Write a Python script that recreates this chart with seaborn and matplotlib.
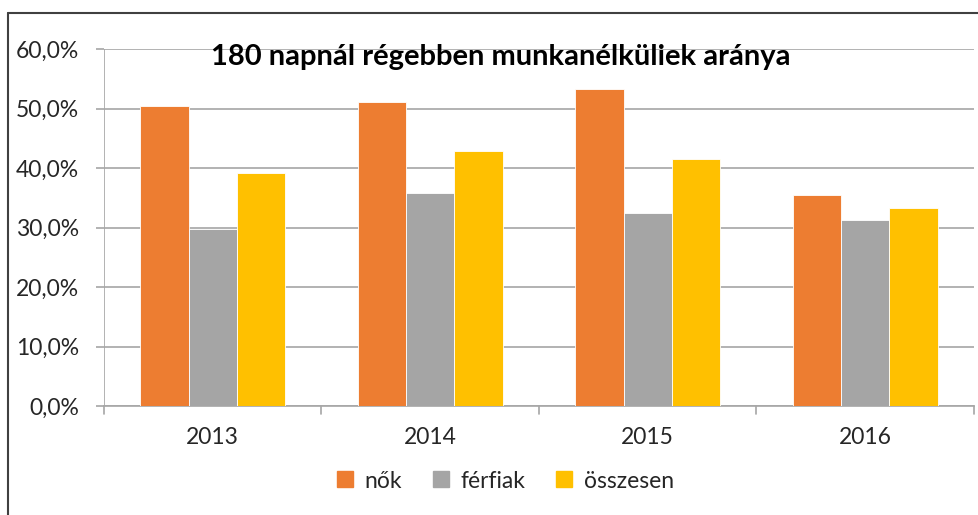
import numpy as np
import pandas as pd
import seaborn as sns
import matplotlib.pyplot as plt
from matplotlib.lines import Line2D
from matplotlib.ticker import FuncFormatter

years = ['2013', '2014', '2015', '2016']
series = ['nők', 'férfiak', 'összesen']
nok = [50.4, 51.1, 53.3, 35.5]
ferfiak = [29.7, 35.8, 32.4, 31.3]
osszesen = [39.2, 42.9, 41.5, 33.2]
colors = ['#ED7D31', '#A5A5A5', '#FFC000']

df = pd.DataFrame({
    'ev': years * 3,
    'csoport': [s for s in series for _ in years],
    'arany': nok + ferfiak + osszesen,
})

sns.set_style('white')
plt.rcParams['font.family'] = ['Lato', 'DejaVu Sans']

fig = plt.figure(figsize=(9.79, 5.15), dpi=100)
ax = fig.add_axes([104 / 979, 1 - 406 / 515, 870 / 979, 357 / 515])

sns.barplot(data=df, x='ev', y='arany', hue='csoport', hue_order=series,
            palette=colors, width=0.667, gap=0, saturation=1, ax=ax,
            edgecolor='white', linewidth=0.6, zorder=3)

ax.set_ylim(0, 60)
ax.set_xlim(-0.5, 3.5)
ax.set_yticks(np.arange(0, 61, 10))
ax.yaxis.set_major_formatter(FuncFormatter(lambda v, p: f'{v:.1f}%'.replace('.', ',')))
ax.grid(axis='y', color='#A6A6A6', linewidth=1.2, zorder=0)
ax.set_axisbelow(True)
for s in ['top', 'right', 'left']:
    ax.spines[s].set_visible(False)
ax.spines['bottom'].set_color('#A6A6A6')
ax.spines['bottom'].set_linewidth(1.2)

# y tick marks on left, vertical ticks between categories
ax.tick_params(axis='y', length=6, color='#A6A6A6', width=1.2, labelsize=16.5,
               labelcolor='#262626', pad=12, left=True)
ax.tick_params(axis='x', length=0, labelsize=16.5, labelcolor='#262626', pad=15)
ax.axvline(-0.5, color='#A6A6A6', linewidth=1.2, zorder=1)
for b in [-0.5, 0.5, 1.5, 2.5, 3.5]:
    ax.plot([b, b], [0, -1.3], color='#A6A6A6', linewidth=1.2, clip_on=False)

ax.set_xlabel('')
ax.set_ylabel('')
ax.legend_.remove()

handles = [Line2D([], [], marker='s', linestyle='', markersize=11,
                  markerfacecolor=c, markeredgecolor=c) for c in colors]
fig.legend(handles, series, loc='center', bbox_to_anchor=(505 / 979, 1 - 481 / 515),
           ncol=3, frameon=False, fontsize=16.5, handlelength=0.8,
           handletextpad=0.45, columnspacing=1.3, labelcolor='#262626')

fig.text(0.512, 1 - 57 / 515, '180 napnál régebben munkanélküliek aránya',
         ha='center', va='center', fontsize=21, fontweight='bold', color='black')

# outer frame (left and top)
fig.add_artist(Line2D([8 / 979, 8 / 979], [0, 1 - 13 / 515], color='#404040',
                      linewidth=1.5, transform=fig.transFigure))
fig.add_artist(Line2D([8 / 979, 978 / 979], [1 - 13 / 515, 1 - 13 / 515],
                      color='#404040', linewidth=1.5, transform=fig.transFigure))

fig.savefig('out.png', dpi=100)
